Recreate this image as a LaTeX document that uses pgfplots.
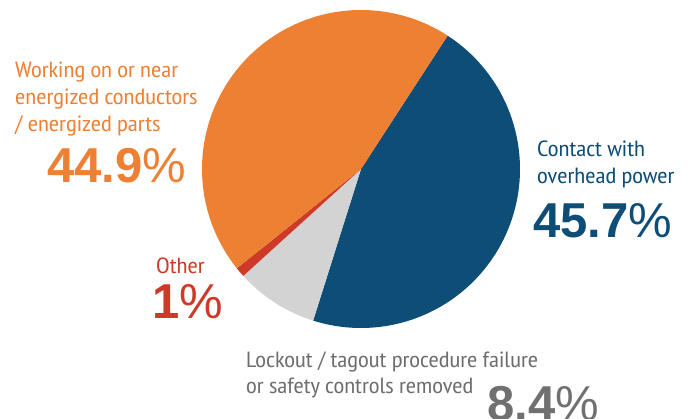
\documentclass[border=0pt]{standalone}
\usepackage{fontspec}
\setmainfont{PT Sans Narrow}[FakeStretch=1.13]
\newfontfamily\numfont{Liberation Sans}
\usepackage{pgfplots}
\pgfplotsset{compat=1.18}
\definecolor{cOrange}{RGB}{237,128,51}
\definecolor{cBlue}{RGB}{14,77,118}
\definecolor{cGray}{RGB}{211,211,211}
\definecolor{cRed}{RGB}{206,58,40}
\definecolor{tGray}{RGB}{110,110,110}
\definecolor{nGray}{RGB}{112,112,112}
% shares (percent)
\def\vBlue{45.7}
\def\vGray{8.4}
\def\vRed{1}
\def\vOrange{44.9}
\pgfmathsetmacro\aA{57}
\pgfmathsetmacro\aB{\aA-\vBlue*3.6}
\pgfmathsetmacro\aC{\aB-\vGray*3.6}
\pgfmathsetmacro\aD{\aC-\vRed*3.6}
\pgfmathsetmacro\aE{\aD-\vOrange*3.6}
\def\cx{361}
\def\cy{249}
\def\rr{159}
\newcommand{\lab}{\fontsize{22}{27}\selectfont}
\newcommand{\num}[1]{{\numfont\fontsize{49}{49}\selectfont\bfseries #1}{\numfont\fontsize{49}{49}\selectfont\%}}
\begin{document}
\begin{tikzpicture}
\begin{axis}[
  name=ax,
  scale only axis, width=690pt, height=418pt,
  xmin=0, xmax=690, ymin=0, ymax=418,
  axis lines=none, ticks=none, enlargelimits=false, clip=false,
]
\addplot[fill=cBlue, draw=none, domain=\aB:\aA, samples=100] ({\cx+\rr*cos(x)},{\cy+\rr*sin(x)}) -- (axis cs:\cx,\cy) -- cycle;
\addplot[fill=cGray, draw=none, domain=\aC:\aB, samples=40] ({\cx+\rr*cos(x)},{\cy+\rr*sin(x)}) -- (axis cs:\cx,\cy) -- cycle;
\addplot[fill=cRed, draw=none, domain=\aD:\aC, samples=10] ({\cx+\rr*cos(x)},{\cy+\rr*sin(x)}) -- (axis cs:\cx,\cy) -- cycle;
\addplot[fill=cOrange, draw=none, domain=\aE:\aD, samples=100] ({\cx+\rr*cos(x)},{\cy+\rr*sin(x)}) -- (axis cs:\cx,\cy) -- cycle;

\node[anchor=base west, text=cOrange, inner sep=0pt, font=\lab] at (axis cs:15,340) {Working on or near};
\node[anchor=base west, text=cOrange, inner sep=0pt, font=\lab] at (axis cs:15,313) {energized conductors};
\node[anchor=base west, text=cOrange, inner sep=0pt, font=\lab] at (axis cs:15,286) {/ energized parts};
\node[anchor=base west, text=cOrange, inner sep=0pt] at (axis cs:47,235) {\num{44.9}};

\node[anchor=base west, text=cBlue, inner sep=0pt, font=\lab] at (axis cs:537,261) {Contact with};
\node[anchor=base west, text=cBlue, inner sep=0pt, font=\lab] at (axis cs:537,234) {overhead power};
\node[anchor=base west, text=cBlue, inner sep=0pt] at (axis cs:533,181) {\num{45.7}};

\node[anchor=base west, text=cRed, inner sep=0pt, font=\lab] at (axis cs:156,145) {Other};
\node[anchor=base west, text=cRed, inner sep=0pt] at (axis cs:152,100) {\num{1}};

\node[anchor=base west, text=tGray, inner sep=0pt, font=\lab] at (axis cs:246,51) {Lockout / tagout procedure failure};
\node[anchor=base west, text=tGray, inner sep=0pt, font=\lab] at (axis cs:246,25) {or safety controls removed};
\node[anchor=base west, text=nGray, inner sep=0pt] at (axis cs:487,-2) {\num{8.4}};
\end{axis}
\pgfresetboundingbox
\useasboundingbox (ax.south west) rectangle (ax.north east);
\end{tikzpicture}
\end{document}
